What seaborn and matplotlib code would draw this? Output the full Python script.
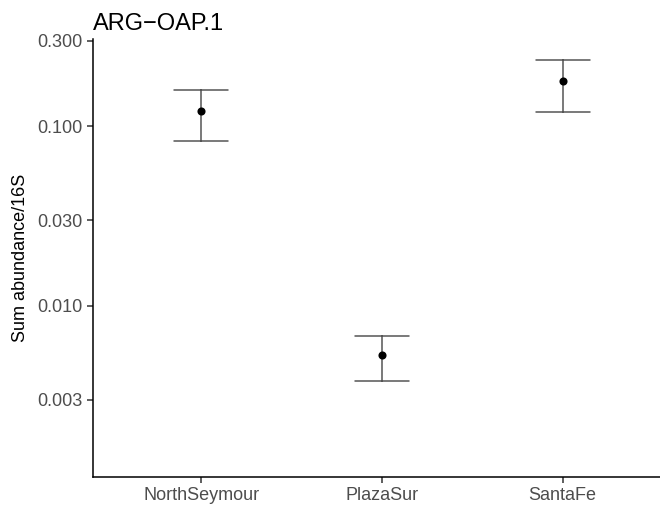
import matplotlib
matplotlib.use("Agg")
import matplotlib.pyplot as plt
from matplotlib.ticker import FixedLocator, NullLocator
import seaborn as sns
import pandas as pd

# Sum abundance normalised to 16S, per site: mean with lower/upper bounds
sites = ["NorthSeymour", "PlazaSur", "SantaFe"]
mean_vals = [0.1217, 0.00529, 0.1788]
lower_vals = [0.0825, 0.00382, 0.1208]
upper_vals = [0.1607, 0.00681, 0.2362]
y_ticks = [0.003, 0.010, 0.030, 0.100, 0.300]
y_tick_labels = ["0.003", "0.010", "0.030", "0.100", "0.300"]

# long table: three rows per site; median = mean, full range = bounds
df = pd.DataFrame({
    "site": sites * 3,
    "value": lower_vals + mean_vals + upper_vals,
})

sns.set_theme(style="ticks")
plt.rcParams["font.family"] = ["Liberation Sans", "DejaVu Sans"]

fig = plt.figure(figsize=(6.6, 5.07), dpi=100)
ax = fig.add_axes([0.1409, 0.0592, 0.8758, 0.8629])

sns.pointplot(
    data=df, x="site", y="value", order=sites,
    estimator="median", errorbar=("pi", 100),
    capsize=0.3, linestyle="none", marker="o", markersize=3.8,
    color="black", zorder=3,
    err_kws={"color": "#555555", "linewidth": 1.1, "zorder": 2},
    ax=ax,
)

ax.set_yscale("log")
ax.set_ylim(0.00111, 0.3055)
ax.set_xlim(-0.6, 2.6)
ax.yaxis.set_major_locator(FixedLocator(y_ticks))
ax.set_yticklabels(y_tick_labels)
ax.yaxis.set_minor_locator(NullLocator())

ax.set_xlabel("")
ax.set_ylabel("Sum abundance/16S", fontsize=13, color="black", labelpad=6)
ax.set_title("ARG\u2212OAP.1", loc="left", fontsize=17, color="black", pad=7)

for side in ["top", "right"]:
    ax.spines[side].set_visible(False)
for side in ["left", "bottom"]:
    ax.spines[side].set_linewidth(1.1)
    ax.spines[side].set_color("black")
ax.tick_params(axis="both", which="major", length=4.3, width=1.1,
               color="#333333", labelsize=13, labelcolor="#4D4D4D", pad=3)
ax.grid(False)

fig.savefig("out.png", dpi=100)
